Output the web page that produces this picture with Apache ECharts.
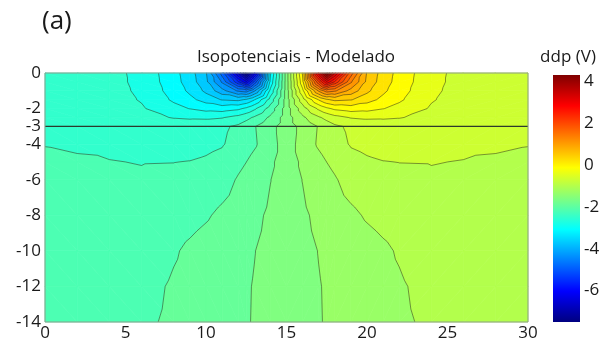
<!DOCTYPE html>
<html>
<head>
<meta charset="utf-8">
<script src="https://cdn.jsdelivr.net/npm/echarts@6/dist/echarts.min.js"></script>
<style>
html,body{margin:0;padding:0;background:#ffffff;}
#c{width:606px;height:346px;}
</style>
</head>
<body>
<div id="c"></div>
<script>
// ---------------- data ----------------
const xNodes = [0, 2, 4, 6, 8, 9, 10, 11, 12, 12.5, 13, 14, 15, 16, 17, 17.5, 18, 19, 20, 21, 22, 24, 26, 28, 30];
const depthNodes = [0, -0.5, -1, -1.5, -2, -2.5, -3, -4, -5, -6, -8, -10, -12, -14];

// potential (V) along each depth row, one value per x node
const ddpDepth0    = [-2.46, -2.48, -2.56, -2.73, -3.15, -3.42, -3.83, -4.90, -6.60, -7.50, -6.40, -3.29, -1.60, 0.09, 3.20, 4.30, 3.40, 1.70, 0.63, 0.22, -0.05, -0.47, -0.64, -0.72, -0.74];
const ddpDepth0_5  = [-2.46, -2.48, -2.56, -2.72, -3.13, -3.39, -3.78, -4.50, -5.60, -6.20, -5.30, -3.17, -1.60, -0.03, 2.10, 3.00, 2.40, 1.30, 0.58, 0.19, -0.07, -0.48, -0.64, -0.72, -0.74];
const ddpDepth1    = [-2.45, -2.47, -2.55, -2.70, -3.08, -3.31, -3.62, -4.04, -4.50, -4.60, -4.20, -2.87, -1.60, -0.33, 1.00, 1.40, 1.30, 0.84, 0.42, 0.11, -0.12, -0.50, -0.65, -0.73, -0.75];
const ddpDepth1_5  = [-2.44, -2.46, -2.54, -2.67, -3.00, -3.17, -3.37, -3.57, -3.62, -3.51, -3.27, -2.52, -1.60, -0.68, 0.07, 0.31, 0.42, 0.37, 0.17, -0.03, -0.20, -0.53, -0.66, -0.74, -0.76];
const ddpDepth2    = [-2.43, -2.45, -2.52, -2.62, -2.85, -2.96, -3.05, -3.09, -3.01, -2.89, -2.71, -2.21, -1.60, -0.99, -0.49, -0.31, -0.19, -0.11, -0.15, -0.24, -0.35, -0.58, -0.68, -0.75, -0.77];
const ddpDepth2_5  = [-2.40, -2.43, -2.47, -2.54, -2.67, -2.70, -2.71, -2.67, -2.55, -2.44, -2.31, -1.99, -1.60, -1.21, -0.89, -0.76, -0.65, -0.53, -0.49, -0.50, -0.53, -0.66, -0.73, -0.77, -0.80];
const ddpDepth3    = [-2.362, -2.377, -2.405, -2.437, -2.454, -2.444, -2.407, -2.40, -2.30, -2.19, -2.07, -1.84, -1.60, -1.36, -1.13, -1.01, -0.90, -0.80, -0.793, -0.756, -0.746, -0.763, -0.795, -0.823, -0.838];
const ddpDepth4    = [-2.352, -2.36, -2.39, -2.42, -2.44, -2.44, -2.41, -2.37, -2.25, -2.17, -2.09, -1.87, -1.60, -1.33, -1.11, -1.03, -0.95, -0.83, -0.79, -0.76, -0.76, -0.78, -0.81, -0.84, -0.848];
const ddpDepth5    = [-2.338, -2.341, -2.344, -2.356, -2.353, -2.344, -2.317, -2.269, -2.119, -2.052, -1.966, -1.801, -1.60, -1.399, -1.234, -1.148, -1.081, -0.931, -0.883, -0.856, -0.847, -0.844, -0.856, -0.859, -0.862];
const ddpDepth6    = [-2.332, -2.329, -2.326, -2.326, -2.299, -2.275, -2.239, -2.167, -2.023, -1.957, -1.891, -1.756, -1.60, -1.444, -1.309, -1.243, -1.177, -1.033, -0.961, -0.925, -0.901, -0.874, -0.874, -0.871, -0.868];
const ddpDepth8    = [-2.314, -2.305, -2.293, -2.272, -2.188, -2.137, -2.08, -1.993, -1.90, -1.852, -1.807, -1.708, -1.60, -1.492, -1.393, -1.348, -1.30, -1.207, -1.12, -1.063, -1.012, -0.928, -0.907, -0.895, -0.886];
const ddpDepth10   = [-2.296, -2.284, -2.257, -2.215, -2.077, -2.002, -1.939, -1.879, -1.816, -1.786, -1.756, -1.678, -1.60, -1.522, -1.444, -1.414, -1.384, -1.321, -1.261, -1.198, -1.123, -0.985, -0.943, -0.916, -0.904];
const ddpDepth12   = [-2.278, -2.26, -2.221, -2.14, -2.017, -1.963, -1.906, -1.852, -1.798, -1.768, -1.74, -1.669, -1.60, -1.531, -1.46, -1.432, -1.402, -1.348, -1.294, -1.237, -1.183, -1.06, -0.979, -0.94, -0.922];
const ddpDepth14   = [-2.26, -2.236, -2.185, -2.104, -1.999, -1.948, -1.894, -1.843, -1.792, -1.765, -1.737, -1.669, -1.60, -1.531, -1.463, -1.435, -1.408, -1.357, -1.306, -1.252, -1.201, -1.096, -1.015, -0.964, -0.94];

const contourLevels = [-7.45, -7.15, -6.85, -6.55, -6.25, -5.95, -5.65, -5.35, -5.05, -4.75, -4.45, -4.15, -3.85, -3.55, -3.25, -2.95, -2.65, -2.35, -2.05, -1.75, -1.45, -1.15, -0.85, -0.55, -0.25, 0.05, 0.35, 0.65, 0.95, 1.25, 1.55, 1.85, 2.15, 2.45, 2.75, 3.05, 3.35, 3.65, 3.95, 4.25];

const xTickLabels = [0, 5, 10, 15, 20, 25, 30];
const yTickLabels = [0, -2, -3, -4, -6, -8, -10, -12, -14];
const colorbarTicks = [4, 2, 0, -2, -4, -6];
const colorMin = -7.5;
const colorMax = 4.3;
const layerDepth = -3;

const chartTitle = 'Isopotenciais - Modelado';
const panelLabel = '(a)';
const colorbarTitle = 'ddp (V)';

// ---------------- helpers ----------------
const ddpRows = [ddpDepth0, ddpDepth0_5, ddpDepth1, ddpDepth1_5, ddpDepth2, ddpDepth2_5, ddpDepth3,
                 ddpDepth4, ddpDepth5, ddpDepth6, ddpDepth8, ddpDepth10, ddpDepth12, ddpDepth14];

function clamp01(a) { return a < 0 ? 0 : (a > 1 ? 1 : a); }
function jetRGB(t) {
  t = clamp01(t);
  return [clamp01(1.5 - Math.abs(4 * t - 3)), clamp01(1.5 - Math.abs(4 * t - 2)), clamp01(1.5 - Math.abs(4 * t - 1))];
}
function rgbStr(c) { return 'rgb(' + Math.round(c[0] * 255) + ',' + Math.round(c[1] * 255) + ',' + Math.round(c[2] * 255) + ')'; }
function jet(v) { return rgbStr(jetRGB((v - colorMin) / (colorMax - colorMin))); }

const bandLo = [-Infinity].concat(contourLevels);
const bandHi = contourLevels.concat([Infinity]);
const bandColor = bandLo.map(function (lo, i) {
  const a = isFinite(lo) ? lo : colorMin;
  const b = isFinite(bandHi[i]) ? bandHi[i] : colorMax;
  return jet((a + b) / 2);
});

function clipPoly(poly, level, keepAbove) {
  const out = [];
  for (let i = 0; i < poly.length; i++) {
    const a = poly[i], b = poly[(i + 1) % poly.length];
    const ina = keepAbove ? a[2] >= level : a[2] <= level;
    const inb = keepAbove ? b[2] >= level : b[2] <= level;
    if (ina) out.push(a);
    if (ina !== inb) {
      const t = (level - a[2]) / (b[2] - a[2]);
      out.push([a[0] + t * (b[0] - a[0]), a[1] + t * (b[1] - a[1]), level]);
    }
  }
  return out;
}

// ---------------- chart ----------------
const chart = echarts.init(document.getElementById('c'), null, { renderer: 'canvas' });
const FONT = '"Open Sans", "Noto Sans", sans-serif';

function renderField(params, api) {
  const fills = [];
  const lines = [];
  for (let j = 0; j < depthNodes.length - 1; j++) {
    for (let i = 0; i < xNodes.length - 1; i++) {
      const p00 = [xNodes[i], depthNodes[j], ddpRows[j][i]];
      const p10 = [xNodes[i + 1], depthNodes[j], ddpRows[j][i + 1]];
      const p01 = [xNodes[i], depthNodes[j + 1], ddpRows[j + 1][i]];
      const p11 = [xNodes[i + 1], depthNodes[j + 1], ddpRows[j + 1][i + 1]];
      const tris = xNodes[i] < 15 ? [[p00, p10, p11], [p00, p11, p01]] : [[p00, p10, p01], [p10, p11, p01]];
      tris.forEach(function (tri) {
        let vmin = Infinity, vmax = -Infinity;
        tri.forEach(function (p) { vmin = Math.min(vmin, p[2]); vmax = Math.max(vmax, p[2]); });
        for (let k = 0; k < bandLo.length; k++) {
          if (bandHi[k] <= vmin || bandLo[k] >= vmax) {
            if (!(vmin === vmax && bandLo[k] <= vmin && bandHi[k] > vmin)) continue;
          }
          let poly = tri;
          if (isFinite(bandLo[k])) poly = clipPoly(poly, bandLo[k], true);
          if (poly.length < 3) continue;
          if (isFinite(bandHi[k])) poly = clipPoly(poly, bandHi[k], false);
          if (poly.length < 3) continue;
          const pts = poly.map(function (p) { return api.coord([p[0], p[1]]); });
          fills.push({ type: 'polygon', shape: { points: pts }, silent: true,
            style: { fill: bandColor[k], stroke: bandColor[k], lineWidth: 0.7 } });
        }
        contourLevels.forEach(function (L) {
          if (!(L > vmin && L < vmax)) return;
          const cross = [];
          for (let e = 0; e < 3; e++) {
            const a = tri[e], b = tri[(e + 1) % 3];
            if ((a[2] - L) * (b[2] - L) < 0) {
              const t = (L - a[2]) / (b[2] - a[2]);
              cross.push(api.coord([a[0] + t * (b[0] - a[0]), a[1] + t * (b[1] - a[1])]));
            }
          }
          if (cross.length === 2) {
            lines.push({ type: 'line', silent: true,
              shape: { x1: cross[0][0], y1: cross[0][1], x2: cross[1][0], y2: cross[1][1] },
              style: { stroke: 'rgba(25,35,25,0.75)', lineWidth: 0.65 } });
          }
        });
      });
    }
  }
  const a = api.coord([xNodes[0], layerDepth]);
  const b = api.coord([xNodes[xNodes.length - 1], layerDepth]);
  const layerLine = { type: 'line', silent: true, shape: { x1: a[0], y1: a[1], x2: b[0], y2: b[1] },
    style: { stroke: '#2c3a2c', lineWidth: 1.4 } };
  const tl = api.coord([xNodes[0], depthNodes[0]]);
  const br = api.coord([xNodes[xNodes.length - 1], depthNodes[depthNodes.length - 1]]);
  const frame = { type: 'rect', silent: true, shape: { x: tl[0], y: tl[1], width: br[0] - tl[0], height: br[1] - tl[1] },
    style: { fill: 'none', stroke: '#8d9c8d', lineWidth: 1 } };
  return { type: 'group', children: fills.concat(lines, [layerLine, frame]) };
}

function renderColorbar(params, api) {
  const top = api.coord([0, colorMax]);
  const bot = api.coord([1, colorMin]);
  const stops = [0, 1 / 8, 3 / 8, 5 / 8, 7 / 8, 1].map(function (t) {
    return { offset: 1 - t, color: rgbStr(jetRGB(t)) };
  }).reverse();
  return {
    type: 'rect', silent: true,
    shape: { x: top[0], y: top[1], width: bot[0] - top[0], height: bot[1] - top[1] },
    style: { fill: new echarts.graphic.LinearGradient(0, 0, 0, 1, stops) }
  };
}

const option = {
  animation: false,
  backgroundColor: '#ffffff',
  grid: [
    { left: 45, top: 73, width: 483, height: 249, containLabel: false },
    { left: 553, top: 75, width: 27, height: 247, containLabel: false }
  ],
  xAxis: [
    { gridIndex: 0, type: 'value', min: 0, max: 30, interval: 5,
      axisLine: { show: false }, axisTick: { show: false }, splitLine: { show: false },
      axisLabel: { customValues: xTickLabels, color: '#1a1a1a', fontSize: 17, fontFamily: FONT, margin: 3 } },
    { gridIndex: 1, type: 'value', min: 0, max: 1, show: false }
  ],
  yAxis: [
    { gridIndex: 0, type: 'value', min: -14, max: 0,
      axisLine: { show: false }, axisTick: { show: false }, splitLine: { show: false },
      axisLabel: { customValues: yTickLabels, color: '#1a1a1a', fontSize: 17, fontFamily: FONT, margin: 4 } },
    { gridIndex: 1, type: 'value', min: colorMin, max: colorMax, position: 'right',
      axisLine: { show: false }, axisTick: { show: false }, splitLine: { show: false },
      axisLabel: { customValues: colorbarTicks, color: '#1a1a1a', fontSize: 17, fontFamily: FONT, margin: 4 } }
  ],
  series: [
    { type: 'custom', xAxisIndex: 0, yAxisIndex: 0, coordinateSystem: 'cartesian2d',
      data: [[0, 0]], renderItem: renderField, clip: false, silent: true },
    { type: 'custom', xAxisIndex: 1, yAxisIndex: 1, coordinateSystem: 'cartesian2d',
      data: [[0, 0]], renderItem: renderColorbar, clip: false, silent: true }
  ],
  graphic: [
    { type: 'text', left: 42, top: 9, silent: true,
      style: { text: panelLabel, fontSize: 26, fontFamily: FONT, fill: '#1a1a1a' } },
    { type: 'text', x: 296, y: 57, silent: true,
      style: { text: chartTitle, fontSize: 17, fontFamily: FONT, fill: '#1a1a1a', align: 'center', verticalAlign: 'middle' } },
    { type: 'text', x: 568, y: 57, silent: true,
      style: { text: colorbarTitle, fontSize: 17, fontFamily: FONT, fill: '#1a1a1a', align: 'center', verticalAlign: 'middle' } }
  ]
};
chart.setOption(option);
</script>
</body>
</html>
